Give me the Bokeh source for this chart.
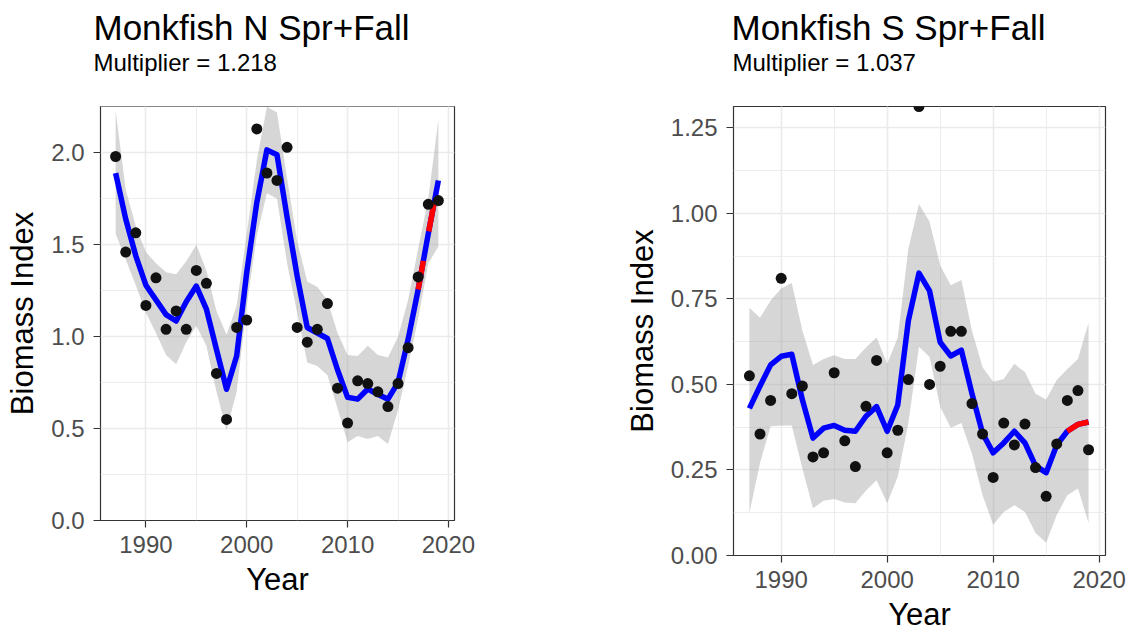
from bokeh.plotting import figure
from bokeh.layouts import row
from bokeh.models import (ColumnDataSource, FixedTicker, SingleIntervalTicker,
                          PrintfTickFormatter, Range1d, Title)
from bokeh.embed import file_html
from bokeh.resources import INLINE

# ---------------- data ----------------
years = [1987, 1988, 1989, 1990, 1991, 1992, 1993, 1994, 1995, 1996, 1997,
         1998, 1999, 2000, 2001, 2002, 2003, 2004, 2005, 2006, 2007, 2008,
         2009, 2010, 2011, 2012, 2013, 2014, 2015, 2016, 2017, 2018, 2019]

# Monkfish N
n_obs = [1.98, 1.46, 1.565, 1.17, 1.32, 1.04, 1.14, 1.04, 1.36, 1.29, 0.80,
         0.55, 1.05, 1.09, 2.13, 1.89, 1.85, 2.03, 1.05, 0.97, 1.04, 1.18,
         0.72, 0.53, 0.76, 0.745, 0.70, 0.62, 0.745, 0.94, 1.325, 1.72, 1.74]
n_fit = [1.89, 1.64, 1.44, 1.28, 1.20, 1.12, 1.085, 1.19, 1.275, 1.15, 0.93,
         0.714, 0.895, 1.35, 1.73, 2.016, 1.99, 1.65, 1.33, 1.05, 1.02, 0.99,
         0.82, 0.67, 0.66, 0.715, 0.687, 0.66, 0.75, 0.985, 1.257, 1.56, 1.85]
n_lo = [1.56, 1.42, 1.28, 1.13, 1.02, 0.90, 0.85, 0.97, 1.06, 0.95, 0.70,
        0.49, 0.70, 1.17, 1.55, 1.78, 1.75, 1.40, 1.13, 0.86, 0.84, 0.79,
        0.61, 0.425, 0.46, 0.443, 0.46, 0.416, 0.60, 0.84, 1.10, 1.40, 1.49]
n_hi = [2.23, 1.80, 1.60, 1.46, 1.40, 1.35, 1.34, 1.41, 1.50, 1.36, 1.14,
        1.01, 1.17, 1.56, 1.96, 2.25, 2.22, 1.86, 1.52, 1.30, 1.27, 1.20,
        1.02, 0.90, 0.895, 0.95, 0.90, 0.886, 1.00, 1.20, 1.48, 1.75, 2.18]

# Monkfish S
s_obs = [0.525, 0.355, 0.453, 0.81, 0.473, 0.495, 0.288, 0.30, 0.534, 0.335,
         0.26, 0.436, 0.57, 0.30, 0.366, 0.514, 1.312, 0.50, 0.553, 0.655,
         0.655, 0.444, 0.355, 0.228, 0.387, 0.323, 0.384, 0.257, 0.173, 0.326,
         0.453, 0.482, 0.309]
s_fit = [0.43, 0.495, 0.557, 0.582, 0.588, 0.455, 0.343, 0.372, 0.38, 0.366,
         0.363, 0.407, 0.435, 0.363, 0.44, 0.686, 0.825, 0.773, 0.623, 0.583,
         0.60, 0.473, 0.357, 0.30, 0.329, 0.363, 0.329, 0.262, 0.242, 0.323,
         0.363, 0.383, 0.39]
s_lo = [0.124, 0.27, 0.378, 0.38, 0.38, 0.254, 0.138, 0.16, 0.165, 0.155,
        0.153, 0.19, 0.22, 0.153, 0.23, 0.387, 0.61, 0.58, 0.435, 0.373,
        0.387, 0.297, 0.176, 0.09, 0.127, 0.147, 0.127, 0.066, 0.037, 0.118,
        0.176, 0.196, 0.095]
s_hi = [0.724, 0.695, 0.745, 0.78, 0.796, 0.657, 0.557, 0.574, 0.585, 0.574,
        0.574, 0.608, 0.637, 0.56, 0.637, 0.897, 1.027, 0.975, 0.848, 0.79,
        0.805, 0.657, 0.55, 0.508, 0.516, 0.56, 0.536, 0.473, 0.456, 0.513,
        0.545, 0.574, 0.68]

# last three years highlighted in red
red_years = [2017, 2018, 2019]

n_yticks = [0.0, 0.5, 1.0, 1.5, 2.0]
n_yminor = [0.25, 0.75, 1.25, 1.75, 2.25]
s_yticks = [0.0, 0.25, 0.5, 0.75, 1.0, 1.25]
s_yminor = [0.125, 0.375, 0.625, 0.875, 1.125]

FONT = "Liberation Sans"


def make_panel(title, subtitle, obs, fit, lo, hi, ymax, yticks, yminor, yfmt,
               width, height, b_left, b_right, b_top, b_bottom, t_off, s_off):
    p = figure(width=width, height=height, output_backend="svg",
               toolbar_location=None, title=None,
               x_range=Range1d(1985.5, 2020.6), y_range=Range1d(0, ymax),
               min_border_left=b_left, min_border_right=b_right,
               min_border_top=b_top, min_border_bottom=b_bottom)
    p.background_fill_color = "white"
    p.border_fill_color = "white"
    p.outline_line_color = "#333333"
    p.outline_line_width = 1.2

    xt = SingleIntervalTicker(interval=10, num_minor_ticks=2)
    yt = FixedTicker(ticks=yticks, minor_ticks=yminor)
    p.xaxis.ticker = xt
    p.yaxis.ticker = yt
    p.xgrid.ticker = xt
    p.ygrid.ticker = yt
    p.yaxis.formatter = PrintfTickFormatter(format=yfmt)
    p.xaxis.formatter = PrintfTickFormatter(format="%d")

    for g in (p.xgrid, p.ygrid):
        g.grid_line_color = "#EBEBEB"
        g.grid_line_width = 1.6
        g.minor_grid_line_color = "#EBEBEB"
        g.minor_grid_line_width = 0.9

    for ax in p.axis:
        ax.axis_line_color = None
        ax.major_tick_line_color = "#333333"
        ax.major_tick_line_width = 1.2
        ax.major_tick_out = 7
        ax.major_tick_in = 0
        ax.minor_tick_line_color = None
        ax.major_label_text_font = FONT
        ax.major_label_text_font_size = "24px"
        ax.major_label_text_color = "#4D4D4D"
        ax.axis_label_text_font = FONT
        ax.axis_label_text_font_size = "31px"
        ax.axis_label_text_font_style = "normal"
        ax.axis_label_text_color = "black"

    p.xaxis.axis_label = "Year"
    p.xaxis.major_label_standoff = 8
    p.xaxis.axis_label_standoff = 6
    p.yaxis.axis_label = "Biomass Index"
    p.yaxis.major_label_standoff = 9
    p.yaxis.axis_label_standoff = 8

    src = ColumnDataSource(dict(year=years, obs=obs, fit=fit, lo=lo, hi=hi))
    p.varea(x="year", y1="lo", y2="hi", source=src,
            fill_color="#999999", fill_alpha=0.4)
    p.line(x="year", y="fit", source=src, line_color="#0000FF",
           line_width=5.5, line_join="round")
    red_vals = fit[-3:]
    p.line(red_years, red_vals, line_color="#FF0000", line_width=5.5,
           line_dash="29 30")
    p.scatter(x="year", y="obs", source=src, size=11,
              fill_color="#111111", line_color=None)

    # titles: spacer (next to frame), subtitle, main title
    p.add_layout(Title(text=" ", text_font=FONT, text_font_size="10px",
                       standoff=18), "above")
    p.add_layout(Title(text=subtitle, text_font=FONT, text_font_size="24px",
                       text_font_style="normal", text_color="black",
                       align="left", offset=s_off, standoff=0), "above")
    p.add_layout(Title(text=title, text_font=FONT, text_font_size="35px",
                       text_font_style="normal", text_color="black",
                       align="left", offset=t_off, standoff=0), "above")
    return p


p1 = make_panel("Monkfish N Spr+Fall", "Multiplier = 1.218",
                n_obs, n_fit, n_lo, n_hi, 2.252, n_yticks, n_yminor, "%.1f",
                width=482, height=599, b_left=100, b_right=28, b_top=106,
                b_bottom=77, t_off=-7, s_off=-7)
p2 = make_panel("Monkfish S Spr+Fall", "Multiplier = 1.037",
                s_obs, s_fit, s_lo, s_hi, 1.312, s_yticks, s_yminor, "%.2f",
                width=645, height=634, b_left=251, b_right=22, b_top=106,
                b_bottom=77, t_off=-2, s_off=-1)

layout = row(p1, p2)
open("out.html", "w").write(file_html(layout, INLINE))
